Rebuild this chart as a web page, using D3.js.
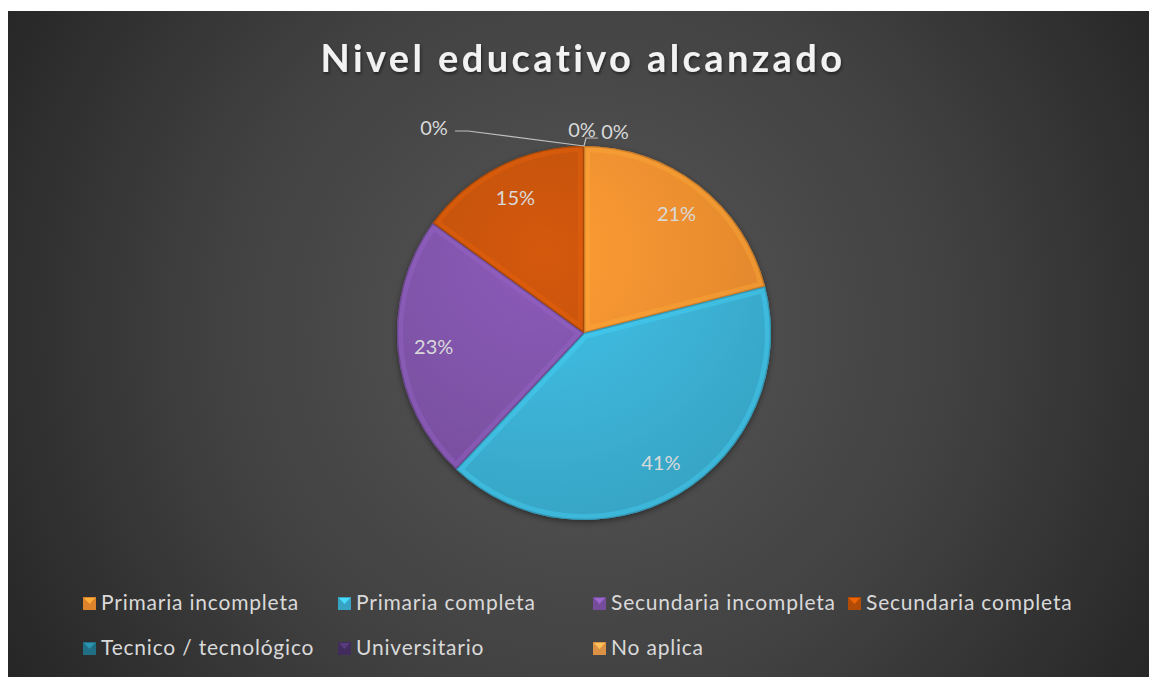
<!DOCTYPE html>
<html><head><meta charset="utf-8">
<script src="https://cdn.jsdelivr.net/npm/d3@7"></script>
<style>html,body{margin:0;padding:0;background:#fff;}svg{display:block;}</style>
</head><body>
<svg id="chart" width="1149" height="677"></svg>
<script>
const categories = ["Primaria incompleta","Primaria completa","Secundaria incompleta","Secundaria completa","Tecnico / tecnológico","Universitario","No aplica"];
const values = [21, 41, 23, 15, 0, 0, 0];
const colors = ["#F59230","#3DB6DA","#8256AC","#C65307","#257C93","#4A3169","#F4A24C"];
const title = "Nivel educativo alcanzado";

const svg = d3.select("#chart");
const W = 1149, H = 677;
const defs = svg.append("defs");

const bg = defs.append("radialGradient").attr("id","bg").attr("gradientUnits","userSpaceOnUse")
  .attr("cx",585).attr("cy",330).attr("r",680);
bg.append("stop").attr("offset","0").attr("stop-color","#575757");
bg.append("stop").attr("offset","0.55").attr("stop-color","#414141");
bg.append("stop").attr("offset","1").attr("stop-color","#252525");
svg.append("rect").attr("x",8).attr("y",11).attr("width",W-8).attr("height",H-11).attr("fill","url(#bg)");

const sh = defs.append("filter").attr("id","shadow").attr("x","-20%").attr("y","-20%").attr("width","140%").attr("height","140%");
sh.append("feDropShadow").attr("dx",0).attr("dy",2).attr("stdDeviation",3).attr("flood-color","#000").attr("flood-opacity",0.45);

const tsh = defs.append("filter").attr("id","tshadow");
tsh.append("feDropShadow").attr("dx",1).attr("dy",2).attr("stdDeviation",1.5).attr("flood-color","#000").attr("flood-opacity",0.5);

// title
svg.append("text").attr("x",583).attr("y",72).attr("text-anchor","middle")
  .attr("font-family","Lato, 'Open Sans', sans-serif").attr("font-weight","bold").attr("font-size",38)
  .attr("letter-spacing","3.4px").attr("fill","#f2f2f2").attr("filter","url(#tshadow)").text(title);

const cx = 584, cy = 333, R = 187;
const pie = d3.pie().sort(null).value(d => d.v);
const data = categories.map((c,i)=>({c, v: values[i], color: colors[i], i}));
const arcs = pie(data);
const arc = d3.arc().innerRadius(0).outerRadius(R);
const labelArc = d3.arc().innerRadius(151).outerRadius(151);

const g = svg.append("g").attr("transform",`translate(${cx},${cy})`);

arcs.forEach((a,i)=>{
  const gr = defs.append("radialGradient").attr("id","sg"+i).attr("gradientUnits","userSpaceOnUse")
    .attr("cx",-40).attr("cy",-80).attr("r",R*1.5);
  const base = d3.color(a.data.color);
  gr.append("stop").attr("offset","0").attr("stop-color", base.brighter(0.2));
  gr.append("stop").attr("offset","1").attr("stop-color", base.darker(0.3));
  defs.append("clipPath").attr("id","cp"+i).append("path").attr("d",arc(a));
});

const slices = g.append("g").attr("filter","url(#shadow)");
arcs.filter(a=>a.data.v>0).forEach(a=>{
  slices.append("path").attr("d",arc(a)).attr("fill",`url(#sg${a.index})`);
});
arcs.filter(a=>a.data.v>0).forEach(a=>{
  const i = a.index;
  const cg = g.append("g").attr("clip-path",`url(#cp${i})`);
  cg.append("path").attr("d",arc(a)).attr("fill","none")
    .attr("stroke", d3.color(a.data.color).brighter(0.5)).attr("stroke-opacity",0.35).attr("stroke-width",12);
  cg.append("path").attr("d",arc(a)).attr("fill","none")
    .attr("stroke", d3.color(a.data.color).darker(1)).attr("stroke-opacity",0.6).attr("stroke-width",2.5);
});

const fmt = d3.format(".0%");
const total = d3.sum(values);
const lbl = svg.append("g").attr("font-family","Lato, 'Open Sans', sans-serif").attr("font-size",20).attr("fill","#d9d9d9");
arcs.filter(a=>a.data.v>0).forEach(a=>{
  const [x,y] = labelArc.centroid(a);
  lbl.append("text").attr("x",cx+x).attr("y",cy+y+7).attr("text-anchor","middle").text(fmt(a.data.v/total));
});
// zero-value slices sit at the top; labels placed beside
const zeroOffsets = [[-150,-205],[-2,-203],[31,-201]];
const zeros = arcs.filter(a=>a.data.v===0);
zeros.forEach((a,k)=>{
  const [ox,oy] = zeroOffsets[k];
  lbl.append("text").attr("x",cx+ox).attr("y",cy+oy+7).attr("text-anchor","middle").text(fmt(a.data.v/total));
});
// leader lines
const ang = zeros[0].startAngle;
const px = cx + R*Math.sin(ang), py = cy - R*Math.cos(ang);
svg.append("path").attr("d",`M${px},${py} L${cx-116},${cy-202} L${cx-129},${cy-202}`)
  .attr("fill","none").attr("stroke","#bfbfbf").attr("stroke-width",1.2);
svg.append("path").attr("d",`M${px},${py} L${px+2},${cy-195} L${px+14},${cy-195}`)
  .attr("fill","none").attr("stroke","#bfbfbf").attr("stroke-width",1.2);

// legend
const leg = svg.append("g").attr("font-family","Lato, 'Open Sans', sans-serif").attr("font-size",21)
  .attr("letter-spacing","0.8px").attr("fill","#d9d9d9");
const colX = [83, 338, 593, 848];
data.forEach((d,i)=>{
  const row = i < 4 ? 0 : 1;
  const col = i < 4 ? i : i-4;
  const x = colX[col], y = row===0 ? 597 : 642;
  const c = d3.color(d.color);
  leg.append("rect").attr("x",x).attr("y",y).attr("width",13).attr("height",13).attr("fill",c.darker(0.3));
  leg.append("path").attr("d",`M${x+1},${y+1} L${x+12},${y+1} L${x+6.5},${y+7} Z`).attr("fill",c.brighter(0.5));
  leg.append("text").attr("x",x+18).attr("y",y+13).text(d.c);
});
</script>
</body></html>
